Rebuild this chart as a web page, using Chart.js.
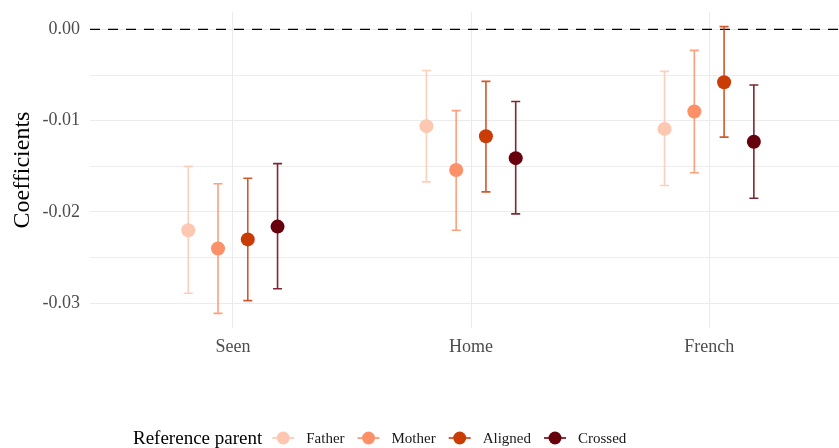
<!DOCTYPE html>
<html>
<head>
<meta charset="utf-8">
<script src="https://cdn.jsdelivr.net/npm/chart.js@4.4.1/dist/chart.umd.min.js"></script>
<style>
  html, body { margin: 0; padding: 0; background: #fff; }
  #wrap { width: 839px; height: 448px; }
</style>
</head>
<body>
<div id="wrap"><canvas id="chart" width="839" height="448"></canvas></div>
<script>
// --- DATA ---
const categories = ["Seen", "Home", "French"];
const seriesNames = ["Father", "Mother", "Aligned", "Crossed"];
const seriesColors = ["#fdc7b1", "#fc9068", "#c93c06", "#67000d"];

const fatherEst = [-0.0220, -0.0106, -0.0109];
const fatherLo  = [-0.0289, -0.0167, -0.0171];
const fatherHi  = [-0.0150, -0.0045, -0.0046];

const motherEst = [-0.0240, -0.0154, -0.0090];
const motherLo  = [-0.0311, -0.0220, -0.0157];
const motherHi  = [-0.0169, -0.0089, -0.0023];

const alignedEst = [-0.0230, -0.0117, -0.0058];
const alignedLo  = [-0.0297, -0.0178, -0.0118];
const alignedHi  = [-0.0163, -0.0057, 0.0003];

const crossedEst = [-0.0216, -0.0141, -0.0123];
const crossedLo  = [-0.0284, -0.0202, -0.0185];
const crossedHi  = [-0.0147, -0.0079, -0.0061];

const yTickValues = [0, -0.005, -0.01, -0.015, -0.02, -0.025, -0.03];

const est = [fatherEst, motherEst, alignedEst, crossedEst];
const lo = [fatherLo, motherLo, alignedLo, crossedLo];
const hi = [fatherHi, motherHi, alignedHi, crossedHi];

// --- UTILS ---
const FONT = "'Liberation Serif', 'DejaVu Serif', serif";
const dodgeWidth = 0.5;
const dodge = (d) => (d - (seriesNames.length - 1) / 2) * dodgeWidth / seriesNames.length;

const withAlpha = (hex, a) => {
  const n = parseInt(hex.slice(1), 16);
  return `rgba(${(n >> 16) & 255}, ${(n >> 8) & 255}, ${n & 255}, ${a})`;
};

const datasets = seriesNames.map((name, d) => ({
  label: name,
  data: categories.map((c, i) => ({ x: i + 1 + dodge(d), y: est[d][i], lo: lo[d][i], hi: hi[d][i] })),
  backgroundColor: seriesColors[d],
  borderColor: seriesColors[d],
  pointRadius: 7,
  pointBorderWidth: 0,
  pointHoverRadius: 7
}));

// dashed zero reference line
const zeroLine = {
  id: "zeroLine",
  beforeDatasetsDraw(chart) {
    const { ctx, chartArea, scales } = chart;
    const y = scales.y.getPixelForValue(0);
    ctx.save();
    ctx.strokeStyle = "#000";
    ctx.lineWidth = 1.4;
    ctx.setLineDash([10, 8]);
    ctx.beginPath();
    ctx.moveTo(chartArea.left, y);
    ctx.lineTo(chartArea.right, y);
    ctx.stroke();
    ctx.restore();
  }
};

// error bars with caps
const errorBars = {
  id: "errorBars",
  beforeDatasetsDraw(chart) {
    const { ctx, scales } = chart;
    ctx.save();
    chart.data.datasets.forEach((ds, d) => {
      ctx.strokeStyle = withAlpha(seriesColors[d], 0.85);
      ctx.lineWidth = 1.6;
      ds.data.forEach((p) => {
        const x = scales.x.getPixelForValue(p.x);
        const yl = scales.y.getPixelForValue(p.lo);
        const yh = scales.y.getPixelForValue(p.hi);
        ctx.beginPath();
        ctx.moveTo(x, yl); ctx.lineTo(x, yh);
        ctx.moveTo(x - 4.5, yl); ctx.lineTo(x + 4.5, yl);
        ctx.moveTo(x - 4.5, yh); ctx.lineTo(x + 4.5, yh);
        ctx.stroke();
      });
    });
    ctx.restore();
  }
};

// ggplot-style legend at the bottom
const bottomLegend = {
  id: "bottomLegend",
  afterDraw(chart) {
    const { ctx } = chart;
    const cy = 438;
    let x = 133;
    ctx.save();
    ctx.textBaseline = "middle";
    ctx.fillStyle = "#000";
    ctx.font = `19px ${FONT}`;
    ctx.fillText("Reference parent", x, cy + 1);
    x += ctx.measureText("Reference parent").width + 10;
    ctx.font = `15px ${FONT}`;
    seriesNames.forEach((name, d) => {
      ctx.strokeStyle = seriesColors[d];
      ctx.lineWidth = 1.6;
      ctx.beginPath();
      ctx.moveTo(x, cy); ctx.lineTo(x + 22, cy);
      ctx.stroke();
      ctx.fillStyle = seriesColors[d];
      ctx.beginPath();
      ctx.arc(x + 11, cy, 6.5, 0, Math.PI * 2);
      ctx.fill();
      x += 22 + 12;
      ctx.fillStyle = "#1a1a1a";
      ctx.fillText(name, x, cy + 1);
      x += ctx.measureText(name).width + 13;
    });
    ctx.restore();
  }
};

new Chart(document.getElementById("chart"), {
  type: "scatter",
  data: { datasets },
  plugins: [zeroLine, errorBars, bottomLegend],
  options: {
    responsive: false,
    devicePixelRatio: 1,
    animation: false,
    layout: { autoPadding: false, padding: { top: 12, right: 0, bottom: 0, left: 0 } },
    plugins: { legend: { display: false }, tooltip: { enabled: false } },
    scales: {
      x: {
        type: "linear",
        min: 0.4,
        max: 3.545,
        afterFit: (s) => { s.height = 120; s.paddingLeft = 0; s.paddingRight = 0; },
        afterBuildTicks: (s) => { s.ticks = categories.map((c, i) => ({ value: i + 1 })); },
        grid: { color: "#ebebeb", lineWidth: 1, drawTicks: false },
        border: { display: false },
        ticks: {
          padding: 8,
          color: "#4d4d4d",
          font: { family: FONT, size: 18 },
          callback: (v) => categories[Math.round(v) - 1] || ""
        }
      },
      y: {
        type: "linear",
        min: -0.0327,
        max: 0.0019,
        afterFit: (s) => { s.width = 90; s.paddingTop = 0; s.paddingBottom = 0; },
        afterBuildTicks: (s) => { s.ticks = yTickValues.map((v) => ({ value: v })); },
        grid: {
          color: "#ebebeb",
          lineWidth: (c) => (Math.abs(Math.round(c.tick.value * 1000) % 10) === 0 ? 1.1 : 0.9),
          drawTicks: false
        },
        border: { display: false },
        title: {
          display: true,
          text: "Coefficients",
          color: "#000",
          font: { family: FONT, size: 24 },
          padding: { top: 8, bottom: 0 }
        },
        ticks: {
          padding: 10,
          color: "#4d4d4d",
          font: { family: FONT, size: 18 },
          callback: (v) => {
            const k = Math.round(v * 1000);
            return k % 10 === 0 ? (v === 0 ? "0.00" : v.toFixed(2)) : "";
          }
        }
      }
    }
  }
});
</script>
</body>
</html>
